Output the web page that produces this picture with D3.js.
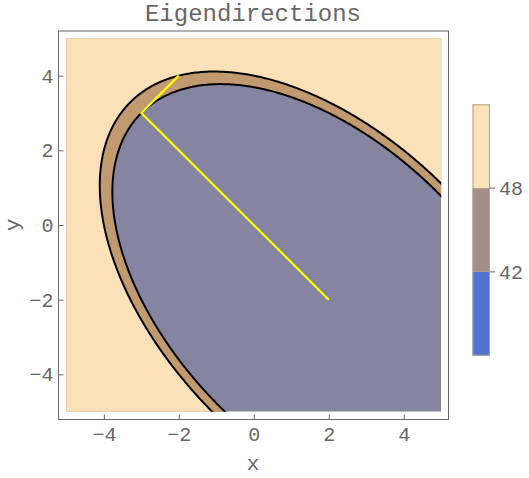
<!DOCTYPE html>
<html>
<head>
<meta charset="utf-8">
<script src="https://cdn.jsdelivr.net/npm/d3@7"></script>
<style>
body { margin: 0; background: #fff; }
text { font-family: "Liberation Mono", "DejaVu Sans Mono", monospace; fill: #666; }
.frame { fill: none; stroke: #666; stroke-width: 1; }
.tick line { stroke: #666; }
</style>
</head>
<body>
<div id="chart"></div>
<script>
/* f(x,y) = a x^2 + b xy + c y^2 + d x + e y + g */
var coef = [2, 2, 2, -4, 4, 0];
var levels = [42, 48];
var bandColors = ["#8585a2", "#c29a6f", "#fce1b8"];
var legendColors = ["#5073d2", "#a28f87", "#fce1b8"];
var eigLine = [[2, -2], [-3, 3], [-2, 4]];
var xTicks = [-4, -2, 0, 2, 4];
var yTicks = [-4, -2, 0, 2, 4];

var w = 529, h = 478;

var svg = d3.select("#chart").append("svg").attr("width", w).attr("height", h);

var xScale = d3.scaleLinear().domain([-5, 5]).range([66.4, 441.2]);
var yScale = d3.scaleLinear().domain([-5, 5]).range([411.7, 38.3]);

function f(x, y) {
	return coef[0]*x*x + coef[1]*x*y + coef[2]*y*y + coef[3]*x + coef[4]*y + coef[5];
}

/* sample grid a bit wider than the plot so edges get clipped away */
var n = 241, lo = -6, hi = 6, step = (hi - lo) / (n - 1);
var grid = new Array(n * n);
for (var j = 0; j < n; ++j) {
	for (var i = 0; i < n; ++i) {
		grid[j * n + i] = f(lo + i * step, lo + j * step);
	}
}
var contours = d3.contours().size([n, n]).thresholds(levels)(grid);

var proj = d3.geoTransform({
	point: function (px, py) {
		this.stream.point(xScale(lo + (px - 0.5) * step), yScale(lo + (py - 0.5) * step));
	}
});
var path = d3.geoPath(proj);

svg.append("clipPath").attr("id", "plotclip")
	.append("rect")
	.attr("x", xScale(-5)).attr("y", yScale(5))
	.attr("width", xScale(5) - xScale(-5)).attr("height", yScale(-5) - yScale(5));

var plot = svg.append("g").attr("clip-path", "url(#plotclip)");

plot.append("rect")
	.attr("x", xScale(-5)).attr("y", yScale(5))
	.attr("width", xScale(5) - xScale(-5)).attr("height", yScale(-5) - yScale(5))
	.attr("fill", bandColors[0]);

plot.selectAll("path.band").data(contours).enter()
	.append("path")
	.attr("class", "band")
	.attr("d", path)
	.attr("fill", function (d, i) { return bandColors[i + 1]; });

plot.selectAll("path.iso").data(contours).enter()
	.append("path")
	.attr("class", "iso")
	.attr("d", path)
	.attr("fill", "none")
	.attr("stroke", "#000")
	.attr("stroke-width", 2);

plot.append("path")
	.datum(eigLine)
	.attr("d", d3.line().x(function (d) { return xScale(d[0]); }).y(function (d) { return yScale(d[1]); }))
	.attr("fill", "none")
	.attr("stroke", "#ffff00")
	.attr("stroke-width", 2.2);

/* frame + ticks */
var fx0 = 58, fx1 = 448, fy0 = 30.5, fy1 = 419;
svg.append("rect").attr("class", "frame")
	.attr("x", fx0 + 0.5).attr("y", fy0 + 0.5)
	.attr("width", fx1 - fx0).attr("height", fy1 - fy0);

var xAxis = d3.axisBottom(xScale).tickValues(xTicks).tickSize(-5).tickPadding(7);
var yAxis = d3.axisLeft(yScale).tickValues(yTicks).tickSize(-5).tickPadding(5);

var gx = svg.append("g").attr("transform", "translate(0," + (fy1 + 0.5) + ")").call(xAxis);
var gy = svg.append("g").attr("transform", "translate(" + (fx0 + 0.5) + ",0)").call(yAxis);
[gx, gy].forEach(function (g) {
	g.select(".domain").remove();
	g.selectAll("text").style("font-size", "20px").attr("fill", "#666");
});

svg.append("text")
	.attr("x", 253).attr("y", 21)
	.style("text-anchor", "middle").style("font-size", "24px")
	.text("Eigendirections");

svg.append("text")
	.attr("x", 253).attr("y", 470)
	.style("text-anchor", "middle").style("font-size", "21px")
	.text("x");

svg.append("text")
	.attr("transform", "translate(19,225) rotate(-90)")
	.style("text-anchor", "middle").style("font-size", "21px")
	.text("y");

/* legend bar */
var lx = 472.5, lw = 17.5;
var lScale = d3.scaleLinear().domain([0, 3]).range([355.7, 104.3]);
var legend = svg.append("g");
legend.selectAll("rect").data(legendColors).enter()
	.append("rect")
	.attr("x", lx).attr("width", lw)
	.attr("y", function (d, i) { return lScale(i + 1); })
	.attr("height", function (d, i) { return lScale(i) - lScale(i + 1); })
	.attr("fill", function (d) { return d; });
legend.append("rect")
	.attr("x", lx + 0.5).attr("y", lScale(3) + 0.5).attr("width", lw - 1).attr("height", lScale(0) - lScale(3) - 1)
	.attr("fill", "none").attr("stroke", "#b0a090").attr("stroke-width", 1);
legend.selectAll("line").data(levels).enter()
	.append("line")
	.attr("x1", lx + lw).attr("x2", lx + lw + 5)
	.attr("y1", function (d, i) { return lScale(i + 1); })
	.attr("y2", function (d, i) { return lScale(i + 1); })
	.attr("stroke", "#666");
legend.selectAll("text").data(levels).enter()
	.append("text")
	.attr("x", lx + lw + 9)
	.attr("y", function (d, i) { return lScale(i + 1); })
	.attr("dy", "0.35em")
	.style("font-size", "20px")
	.text(function (d) { return d; });
</script>
</body>
</html>
